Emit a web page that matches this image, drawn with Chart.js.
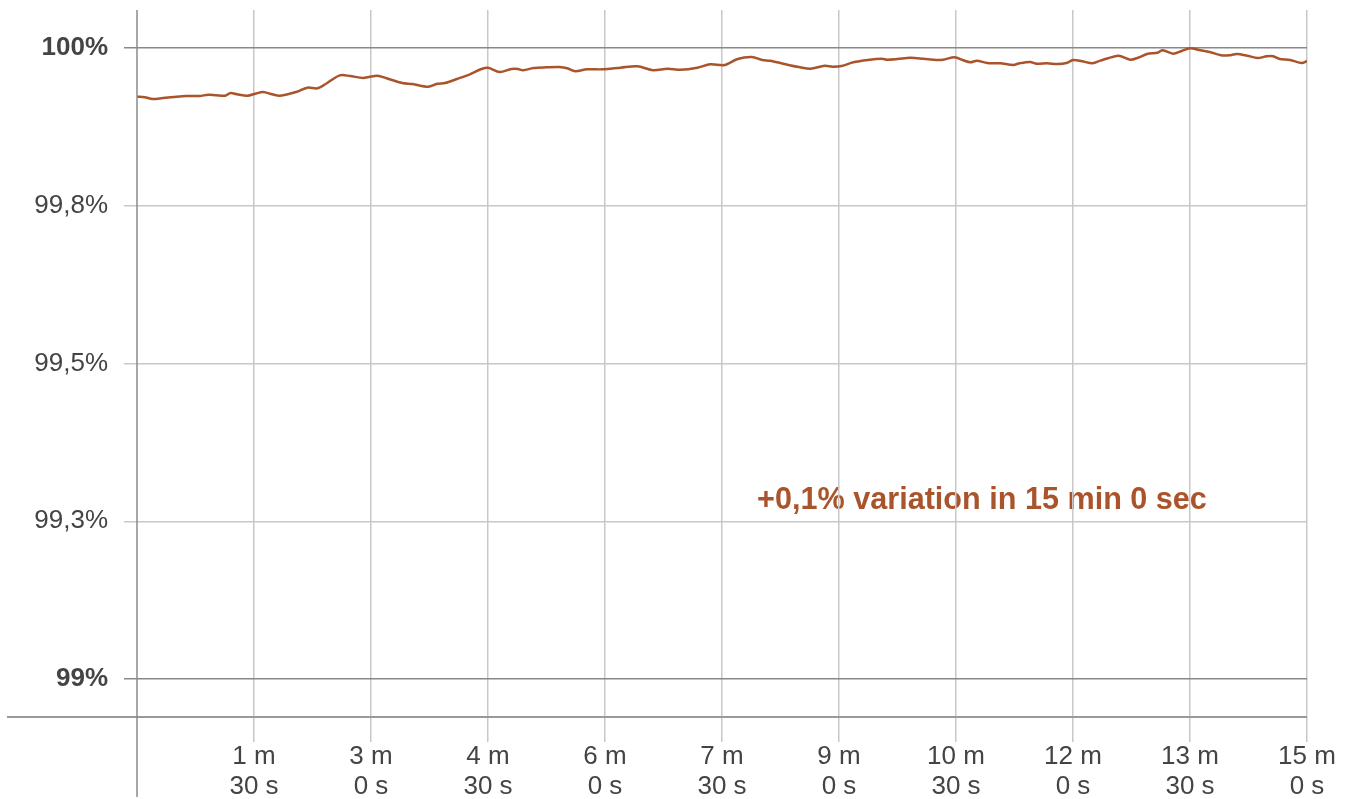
<!DOCTYPE html>
<html>
<head>
<meta charset="utf-8">
<script src="https://cdn.jsdelivr.net/npm/chart.js@4.4.1/dist/chart.umd.min.js"></script>
<style>
  html, body { margin: 0; padding: 0; background: #fff; }
  #wrap { width: 1354px; height: 799px; }
</style>
</head>
<body>
<div id="wrap"><canvas id="chart" width="1354" height="799"></canvas></div>
<script>
// elapsed time in seconds
const times = [0, 6, 12, 20, 28, 38, 48, 55, 61, 68, 72, 77, 85, 91, 97, 104, 110, 123, 131, 139,
  146, 156, 164, 174, 185, 192, 204, 212, 224, 231, 237, 246, 256, 265, 270, 279, 288, 293, 297, 305,
  315, 325, 331, 337, 346, 358, 372, 385, 397, 408, 418, 431, 441, 452, 462, 473, 481, 487, 495, 502,
  510, 518, 529, 535, 542, 551, 562, 573, 577, 585, 595, 605, 615, 620, 629, 635, 641, 646, 654, 664,
  674, 679, 687, 692, 700, 708, 715, 720, 727, 735, 741, 747, 755, 764, 770, 777, 785, 789, 797, 804,
  810, 818, 825, 834, 840, 846, 854, 862, 869, 874, 879, 887, 896, 900];

// availability in %
const availability = [99.9228, 99.9219, 99.9192, 99.9208, 99.9223, 99.9239, 99.9239, 99.9260, 99.9250, 99.9244,
  99.9287, 99.9266, 99.9244, 99.9276, 99.9303, 99.9266, 99.9244, 99.9307, 99.9371, 99.9361,
  99.9441, 99.9567, 99.9556, 99.9525, 99.9561, 99.9520, 99.9445, 99.9429, 99.9387, 99.9434,
  99.9445, 99.9509, 99.9583, 99.9667, 99.9688, 99.9620, 99.9667, 99.9667, 99.9647, 99.9683,
  99.9694, 99.9699, 99.9678, 99.9631, 99.9662, 99.9662, 99.9688, 99.9710, 99.9647, 99.9672,
  99.9656, 99.9688, 99.9742, 99.9731, 99.9826, 99.9857, 99.9810, 99.9799, 99.9762, 99.9726,
  99.9694, 99.9672, 99.9719, 99.9704, 99.9715, 99.9773, 99.9810, 99.9830, 99.9815, 99.9826,
  99.9846, 99.9830, 99.9810, 99.9815, 99.9853, 99.9810, 99.9773, 99.9799, 99.9762, 99.9758,
  99.9731, 99.9758, 99.9778, 99.9751, 99.9758, 99.9746, 99.9762, 99.9810, 99.9789, 99.9758,
  99.9799, 99.9837, 99.9878, 99.9815, 99.9846, 99.9905, 99.9926, 99.9964, 99.9910, 99.9957,
  99.9995, 99.9964, 99.9937, 99.9884, 99.9884, 99.9905, 99.9878, 99.9842, 99.9868, 99.9868,
  99.9826, 99.9810, 99.9762, 99.9794];

const yTickValues = [99, 99.25, 99.5, 99.75, 100];
const yTickLabels = ['99%', '99,3%', '99,5%', '99,8%', '100%'];
const xTickValues = [90, 180, 270, 360, 450, 540, 630, 720, 810, 900];
const xTickLabels = [['1 m', '30 s'], ['3 m', '0 s'], ['4 m', '30 s'], ['6 m', '0 s'], ['7 m', '30 s'],
  ['9 m', '0 s'], ['10 m', '30 s'], ['12 m', '0 s'], ['13 m', '30 s'], ['15 m', '0 s']];
const note = '+0,1% variation in 15 min 0 sec';
const noteAt = { t: 477, v: 99.282 };

const FONT = '"Liberation Sans", Arial, sans-serif';
const LINE_COLOR = '#a9542b';

// draws the annotation under the grid, and the axis lines that run past the plot box
const decorations = {
  id: 'decorations',
  beforeDraw(chart) {
    const { ctx, scales: { x, y } } = chart;
    ctx.save();
    ctx.font = 'bold 30.6px ' + FONT;
    ctx.fillStyle = LINE_COLOR;
    ctx.textBaseline = 'middle';
    ctx.textAlign = 'left';
    ctx.fillText(note, x.getPixelForValue(noteAt.t), y.getPixelForValue(noteAt.v));
    ctx.restore();
  },
  afterDraw(chart) {
    const { ctx, chartArea: a } = chart;
    ctx.save();
    ctx.strokeStyle = '#999';
    ctx.lineWidth = 2;
    ctx.beginPath();
    ctx.moveTo(7, a.bottom);
    ctx.lineTo(a.right, a.bottom);
    ctx.stroke();
    ctx.strokeStyle = '#8a8a8a';
    ctx.lineWidth = 1.5;
    ctx.beginPath();
    ctx.moveTo(a.left, a.top);
    ctx.lineTo(a.left, 797);
    ctx.stroke();
    ctx.restore();
  }
};

const pad = 38 / 631; // plot box reaches a little past 99% and 100%
const isEnd = (c) => c.tick && (c.tick.value === 99 || c.tick.value === 100);

new Chart(document.getElementById('chart'), {
  type: 'line',
  data: {
    datasets: [{
      data: times.map((t, i) => ({ x: t, y: availability[i] })),
      borderColor: LINE_COLOR,
      borderWidth: 2.5,
      pointRadius: 0,
      tension: 0.3,
      fill: false
    }]
  },
  options: {
    responsive: false,
    animation: false,
    layout: { autoPadding: false, padding: { top: 10, right: 47, left: 0, bottom: 0 } },
    plugins: { legend: { display: false }, tooltip: { enabled: false } },
    scales: {
      x: {
        type: 'linear',
        min: 0,
        max: 900,
        afterBuildTicks(s) { s.ticks = xTickValues.map(v => ({ value: v })); },
        afterFit(s) { s.height = 82; s.paddingLeft = 0; s.paddingRight = 0; },
        ticks: {
          autoSkip: false,
          maxRotation: 0,
          padding: 0,
          color: '#444',
          font: { family: FONT, size: 26, lineHeight: 1.15 },
          callback: (v) => xTickLabels[xTickValues.indexOf(v)]
        },
        grid: { color: '#c8c8c8', lineWidth: 1.5, tickLength: 25 },
        border: { display: false }
      },
      y: {
        min: 99 - pad,
        max: 100 + pad,
        afterBuildTicks(s) { s.ticks = yTickValues.map(v => ({ value: v })); },
        afterFit(s) { s.width = 137; s.paddingTop = 0; s.paddingBottom = 0; },
        ticks: {
          padding: 16,
          color: '#444',
          font: (c) => ({ family: FONT, size: 26, weight: isEnd(c) ? 'bold' : 'normal' }),
          callback: (v) => yTickLabels[yTickValues.indexOf(v)]
        },
        grid: {
          color: (c) => isEnd(c) ? '#888' : '#c8c8c8',
          lineWidth: 1.5,
          tickLength: 13
        },
        border: { display: false }
      }
    }
  },
  plugins: [decorations]
});
</script>
</body>
</html>
